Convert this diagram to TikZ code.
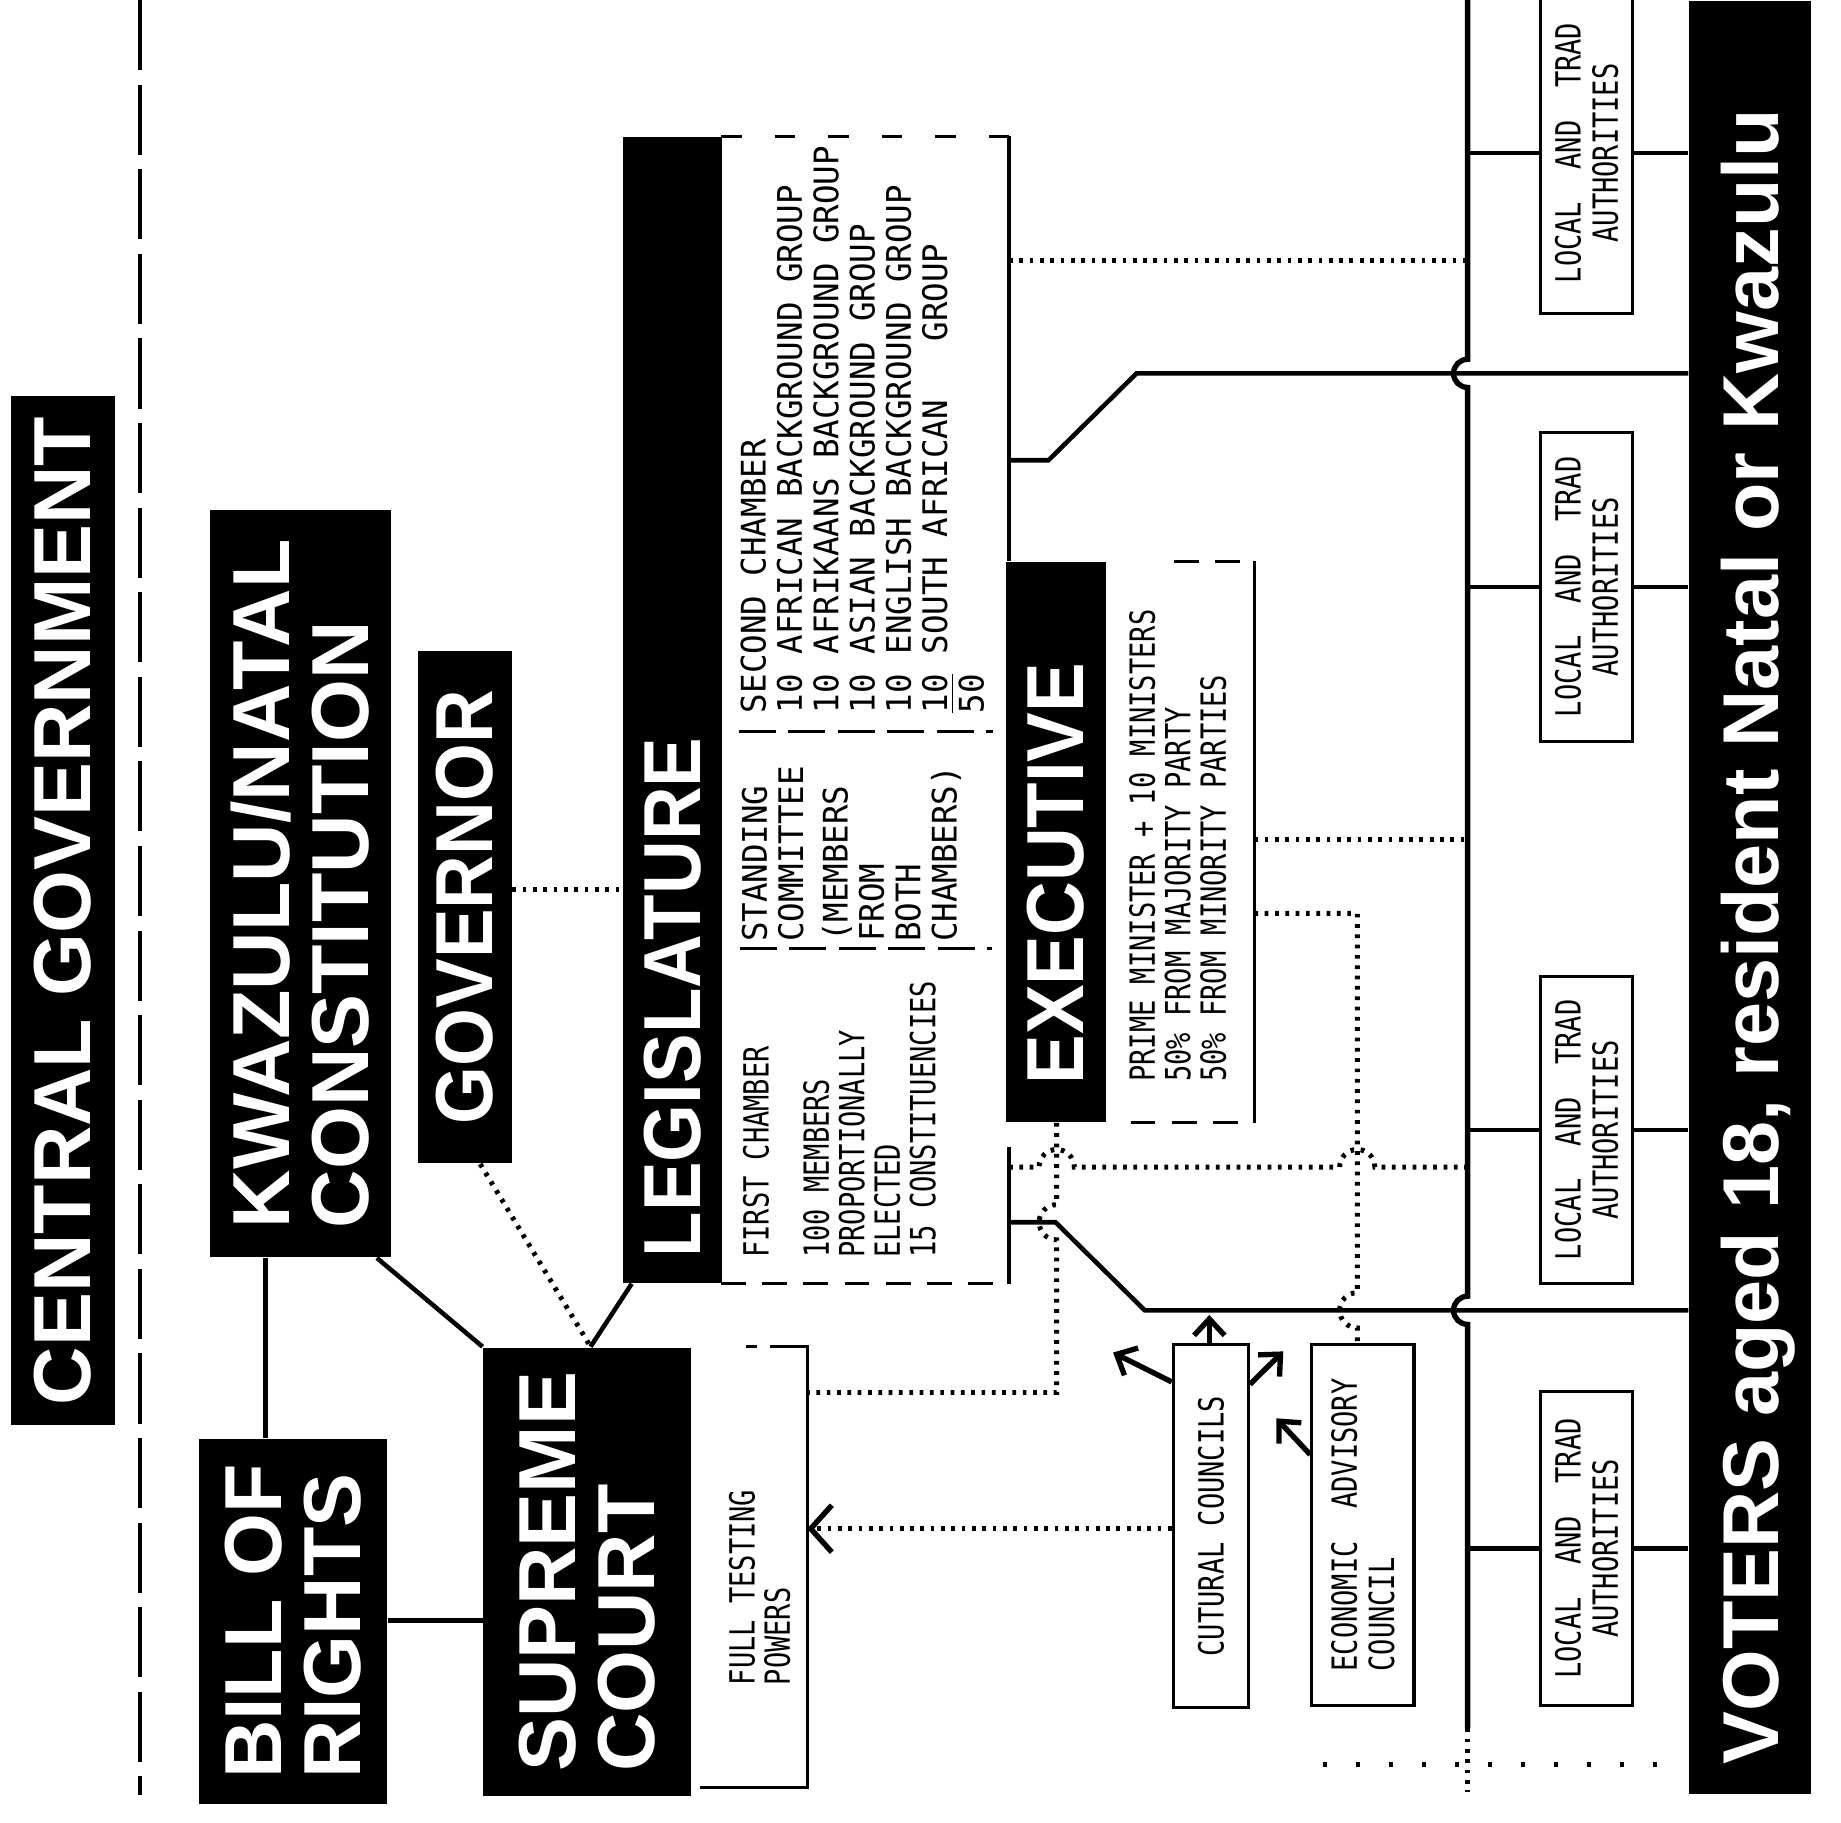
\documentclass[tikz,border=0pt]{standalone}
\usepackage{fontspec}
\usepackage{graphicx}
\usetikzlibrary{arrows.meta}
\newfontfamily\headfont{Liberation Sans}
\newfontfamily\headnarrow{Liberation Sans}[FakeStretch=0.92]
\newfontfamily\smallfont{DejaVu Sans Mono}[FakeStretch=0.78]
\newfontfamily\listfont{DejaVu Sans Mono}[FakeStretch=0.96]
\newcommand{\vtext}[1]{\rotatebox{90}{\vbox{\halign{##\hfil\cr#1\crcr}}}}
\newcommand{\vctext}[1]{\rotatebox{90}{\vbox{\halign{\hfil##\hfil\cr#1\crcr}}}}
\tikzset{
  headbox/.style={fill=black,text=white,inner sep=0pt,anchor=north west,font=\headfont\bfseries\fontsize{19.6}{19}\selectfont},
  whitebox/.style={draw,line width=0.75pt,inner sep=0pt,anchor=north west,font=\smallfont\fontsize{8.4}{9}\selectfont},
  wh/.style 2 args={minimum width=#1*0.1mm,minimum height=#2*0.1mm},
  small/.style={inner sep=0pt,anchor=south west,font=\smallfont\fontsize{8.4}{8.6}\selectfont},
  list/.style={inner sep=0pt,anchor=south west,font=\listfont\fontsize{8.2}{8.8}\selectfont},
  rim/.style={line width=0.75pt},
  link/.style={line width=1.1pt},
  bus/.style={line width=1.3pt},
  dotlink/.style={line width=1.2pt,dash pattern=on 0.9pt off 1.6pt},
  arr/.style={line width=1.3pt,-{Straight Barb[length=1.4mm,width=2.6mm]}}
}
\begin{document}
\begin{tikzpicture}[x=0.1mm,y=-0.1mm]
\useasboundingbox (0,0) rectangle (1568,1552);

\draw[line width=1pt,dash pattern=on 17pt off 3.5pt] (119,0) -- (119,1529);

\node[headbox,wh={88}{876}] (central) at (9,337) {\vtext{CENTRAL GOVERNMENT}};
\node[headbox,wh={160}{311}] (bill) at (169,1225) {\vtext{BILL OF\cr RIGHTS}};
\node[headbox,wh={154}{636}] (kwazulu) at (178,434) {\vtext{KWAZULU/NATAL\cr CONSTITUTION}};
\node[headbox,wh={80}{436},font=\headnarrow\bfseries\fontsize{19.6}{19}\selectfont] (governor) at (355,554) {\vtext{GOVERNOR}};
\node[headbox,wh={177}{382}] (supreme) at (411,1147) {\vtext{SUPREME\cr COURT}};
\node[headbox,wh={84}{976},font=\headnarrow\bfseries\fontsize{19.6}{19}\selectfont] (legis) at (530,116) {\rotatebox{90}{\makebox[97.6mm][l]{\hspace{2.2mm}LEGISLATURE}}};
\node[headbox,wh={85}{477},font=\headnarrow\bfseries\fontsize{19.6}{19}\selectfont] (exec) at (856,478) {\rotatebox{90}{\makebox[47.7mm][l]{\hspace{3.2mm}EXECUTIVE}}};
\node[headbox,wh={104}{1527},font=\headfont\bfseries\fontsize{19.2}{20}\selectfont] (voters) at (1438,0) {\rotatebox{90}{\raisebox{0pt}[\height][0pt]{\makebox[152.7mm][l]{\hspace{2.5mm}VOTERS aged 18, resident Natal or Kwazulu}}}};

\node[inner sep=0pt,anchor=north west,wh={244}{976}] (legbody) at (614,116) {};
\node[inner sep=0pt,anchor=north west,wh={126}{477}] (execbody) at (941,478) {};
\node[inner sep=0pt,anchor=north west,wh={98}{374}] (fullbody) at (588,1147) {};

\draw[rim,dash pattern=on 5pt off 8pt] (legbody.north west) -- (legbody.north east);
\draw[rim] (legbody.north east) -- (legbody.east |- exec.north);
\draw[rim] (legbody.east |- 0,977) -- (legbody.south east);
\draw[rim,dash pattern=on 6pt off 4pt] (legbody.south west) -- (legbody.south east);
\draw[rim,dash pattern=on 9pt off 3pt] (629,623) -- (846,623);
\draw[rim,dash pattern=on 9pt off 3pt] (630,808) -- (845,808);
\draw[rim] (execbody.north east) -- (execbody.south east);
\draw[rim,dash pattern=on 6pt off 4pt] (1000,0 |- execbody.north) -- (execbody.north east);
\draw[rim,dash pattern=on 6pt off 4pt] (963,0 |- execbody.south) -- (execbody.south east);
\draw[rim] (656,0 |- fullbody.north) -- (fullbody.north east) -- (fullbody.south east) -- (596,0 |- fullbody.south);
\draw[rim] (635,0 |- fullbody.north) -- (645,0 |- fullbody.north);

\node[list] (second) at (630,608) {\vtext{SECOND CHAMBER\cr 10 AFRICAN BACKGROUND GROUP\cr 10 AFRIKAANS BACKGROUND GROUP\cr 10 ASIAN BACKGROUND GROUP\cr 10 ENGLISH BACKGROUND GROUP\cr 10 SOUTH AFRICAN\ \ \ GROUP\cr $\overline{\hbox{50}}$}};
\node[list] (standing) at (631,803) {\vtext{STANDING\cr COMMITTEE\cr\noalign{\vskip 2pt}(MEMBERS\cr FROM\cr BOTH\cr CHAMBERS)}};
\node[small] (first) at (632,1072) {\vtext{FIRST CHAMBER\cr\noalign{\vskip 6pt}100 MEMBERS\cr PROPORTIONALLY\cr ELECTED\cr 15 CONSTITUENCIES}};
\node[small] (execinfo) at (961,922) {\vtext{PRIME MINISTER + 10 MINISTERS\cr 50\% FROM MAJORITY PARTY\cr 50\% FROM MINORITY PARTIES}};
\node[small] (fulltext) at (620,1436) {\vtext{FULL TESTING\cr POWERS}};

\node[whitebox,wh={64}{309}] (cult) at (998,1144) {\vtext{CUTURAL COUNCILS}};
\node[whitebox,wh={87}{307}] (econ) at (1116,1144) {\vtext{ECONOMIC\ \ ADVISORY\cr COUNCIL}};
\node[whitebox,wh={78}{274}] (local1) at (1311,-8) {\vctext{LOCAL\ \ AND\ \ TRAD\cr AUTHORITIES}};
\node[whitebox,wh={78}{263}] (local2) at (1311,367) {\vctext{LOCAL\ \ AND\ \ TRAD\cr AUTHORITIES}};
\node[whitebox,wh={78}{262}] (local3) at (1311,830) {\vctext{LOCAL\ \ AND\ \ TRAD\cr AUTHORITIES}};
\node[whitebox,wh={78}{267}] (local4) at (1311,1184) {\vctext{LOCAL\ \ AND\ \ TRAD\cr AUTHORITIES}};

\coordinate (bustop) at (1250,0);
\draw[bus] (bustop) -- (1250,306) arc (270:90:12) -- (1250,1104) arc (270:90:12) -- (1250,1472) coordinate (busend);
\draw[dotlink] (busend) -- (1250,1526);
\foreach \n in {1,2,3,4}{
  \draw[link] (bustop |- local\n.west) -- (local\n.west);
  \draw[link] (local\n.east) -- (voters.west |- local\n.east);
}

\draw[link] (226,0 |- kwazulu.south) -- (226,0 |- bill.north);
\draw[link] (bill.east |- 0,1380) -- (supreme.west |- 0,1380);
\draw[link] (321,0 |- kwazulu.south) -- (supreme.north west);
\draw[link] (538,0 |- legis.south) -- (503,0 |- supreme.north);
\draw[dotlink] (409,0 |- governor.south) -- (503,0 |- supreme.north);
\draw[dotlink] (governor.east |- 0,758) -- (legis.west |- 0,758);

\draw[link] (legbody.east |- 0,392) -- (893,392) -- (968,318) -- (voters.west |- 0,318);
\draw[link] (legbody.east |- 0,1041) -- (899,1041) -- (975,1116) -- (voters.west |- 0,1116);
\draw[dotlink] (legbody.east |- 0,222) -- (bustop |- 0,222);
\draw[dotlink] (legbody.east |- 0,994) -- (885,994) arc (180:360:15) -- (1141,994) arc (180:360:15) -- (bustop |- 0,994);
\draw[dotlink] (900,0 |- exec.south) -- (900,1026) arc (270:90:15) -- (900,1186) -- (fullbody.east |- 0,1186);
\draw[dotlink] (execbody.east |- 0,715) -- (bustop |- 0,715);
\draw[dotlink] (execbody.east |- 0,778) -- (1156,778) -- (1156,1101) arc (270:90:15) -- (1156,0 |- econ.north);
\draw[dotlink,-{Straight Barb[length=1.8mm,width=4mm,line width=1.3pt]}] (cult.west |- 0,1302) -- (fullbody.east |- 0,1302);

\draw[arr] (1030,0 |- cult.north) -- (1030,1120);
\draw[arr] (cult.west |- 0,1177) -- (948,1152);
\draw[arr] (cult.east |- 0,1179) -- (1093,1151);
\draw[arr] (econ.west |- 0,1239) -- (1087,1208);

\draw[line width=1.3pt,dash pattern=on 1pt off 7pt] (1127,1503) -- (1416,1503);
\end{tikzpicture}
\end{document}
